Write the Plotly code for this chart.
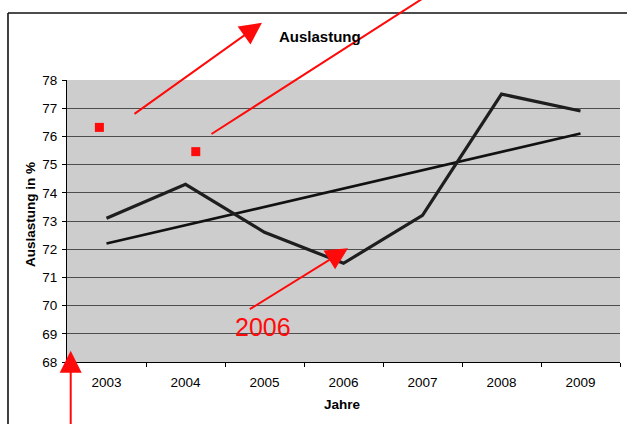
import plotly.graph_objects as go

# Auslastung (utilisation) per year, with its linear trend
years = ["2003", "2004", "2005", "2006", "2007", "2008", "2009"]
auslastung = [73.1, 74.3, 72.6, 71.5, 73.2, 77.5, 76.9]
trend_years = ["2003", "2009"]
trend_vals = [72.2, 76.1]

y_ticks = list(range(68, 79))

# red hand-made markings on top of the chart (axis units: year index / percent)
note_marks_x = [-0.09, 1.13]
note_marks_y = [76.32, 75.46]

arrow_tail_x = [0.335, 1.31, 1.795, -0.453]
arrow_tail_y = [76.76, 76.05, 69.84, 65.59]
arrow_tip_x = [1.968, 4.03, 3.057, -0.453]
arrow_tip_y = [80.03, 80.94, 72.03, 68.4]
arrow_heads = [2, 0, 2, 2]

note_text = "2006"
note_text_x = 1.98
note_text_y = 69.24

FONT = "Liberation Sans, Arial, sans-serif"
RED = "#ff0a0a"

idx = {y: i for i, y in enumerate(years)}
x_pos = [idx[y] for y in years]
trend_x = [idx[y] for y in trend_years]

fig = go.Figure()

fig.add_trace(go.Scatter(
    x=trend_x, y=trend_vals, mode="lines",
    line=dict(color="#111111", width=2.6),
    showlegend=False, hoverinfo="skip",
))
fig.add_trace(go.Scatter(
    x=x_pos, y=auslastung, mode="lines",
    line=dict(color="#1e1e1e", width=3.2),
    showlegend=False,
))
fig.add_trace(go.Scatter(
    x=note_marks_x, y=note_marks_y, mode="markers",
    marker=dict(symbol="square", size=9, color=RED, line=dict(width=0)),
    showlegend=False, hoverinfo="skip", cliponaxis=False,
))

annotations = []
for tx, ty, hx, hy, head in zip(arrow_tail_x, arrow_tail_y, arrow_tip_x, arrow_tip_y, arrow_heads):
    annotations.append(dict(
        x=hx, y=hy, xref="x", yref="y",
        ax=tx, ay=ty, axref="x", ayref="y",
        text="", showarrow=True,
        arrowhead=head, arrowsize=2.2, arrowwidth=2, arrowcolor=RED,
    ))

annotations.append(dict(
    x=note_text_x, y=note_text_y, xref="x", yref="y",
    xanchor="center", yanchor="middle",
    text=note_text, showarrow=False,
    font=dict(family=FONT, size=25, color=RED),
))

# chart title and axis titles
annotations.append(dict(
    x=0.4575, y=1.156, xref="paper", yref="paper",
    xanchor="center", yanchor="middle",
    text="<b>Auslastung</b>", showarrow=False,
    font=dict(family=FONT, size=15, color="black"),
))
annotations.append(dict(
    x=0.499, y=-0.152, xref="paper", yref="paper",
    xanchor="center", yanchor="middle",
    text="<b>Jahre</b>", showarrow=False,
    font=dict(family=FONT, size=13.5, color="black"),
))
annotations.append(dict(
    x=-0.0669, y=0.521, xref="paper", yref="paper",
    xanchor="center", yanchor="middle",
    text="<b>Auslastung in %</b>", showarrow=False, textangle=-90,
    font=dict(family=FONT, size=13.5, color="black"),
))

# page frame (left and top edges)
shapes = [
    dict(type="line", xref="paper", yref="paper",
         x0=-0.1067, x1=-0.1067, y0=1.2376, y1=-0.26,
         line=dict(color="#111111", width=1.6)),
    dict(type="line", xref="paper", yref="paper",
         x0=-0.1067, x1=1.02, y0=1.2376, y1=1.2376,
         line=dict(color="#111111", width=1.6)),
]

fig.update_layout(
    width=627, height=424,
    margin=dict(l=67, r=7, t=80, b=62),
    paper_bgcolor="white",
    plot_bgcolor="#cdcdcd",
    font=dict(family=FONT, size=13, color="black"),
    annotations=annotations,
    shapes=shapes,
    showlegend=False,
)

fig.update_xaxes(
    range=[-0.5, 6.5],
    tickmode="array", tickvals=x_pos, ticktext=years,
    ticks="", showgrid=False, zeroline=False,
    showline=True, linecolor="black", linewidth=1.2,
    ticklabelstandoff=8,
    minor=dict(tickmode="linear", tick0=-0.5, dtick=1,
               ticks="outside", ticklen=4, tickcolor="black", tickwidth=1,
               showgrid=False),
    tickfont=dict(family=FONT, size=13.5, color="black"),
)
fig.update_yaxes(
    range=[68, 78],
    tickmode="array", tickvals=y_ticks,
    ticks="outside", ticklen=4, tickcolor="black", tickwidth=1,
    showgrid=True, gridcolor="#4d4d4d", gridwidth=1,
    zeroline=False,
    showline=True, linecolor="black", linewidth=1.2,
    ticklabelstandoff=2,
    tickfont=dict(family=FONT, size=13.5, color="black"),
)

fig.write_html("out.html")
